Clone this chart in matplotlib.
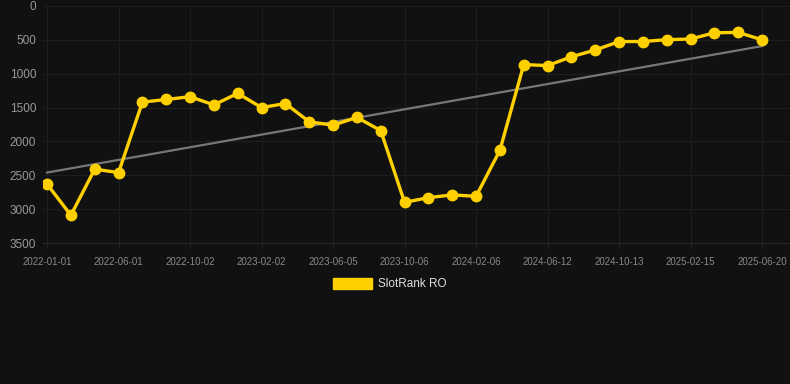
import numpy as np
import matplotlib
matplotlib.use('Agg')
import matplotlib.pyplot as plt
from matplotlib.patches import Patch

plt.rcParams['font.family'] = ['Liberation Sans', 'DejaVu Sans']

# rank values, one point per period (lower is better, axis inverted)
ranks = [2630, 3090, 2410, 2460, 1420, 1380, 1340, 1460, 1290, 1500,
         1440, 1710, 1760, 1645, 1840, 2900, 2830, 2790, 2810, 2130,
         865, 880, 750, 650, 525, 525, 497, 488, 395, 390, 500]
tick_labels = ['2022-01-01', '2022-06-01', '2022-10-02', '2023-02-02',
               '2023-06-05', '2023-10-06', '2024-02-06', '2024-06-12',
               '2024-10-13', '2025-02-15', '2025-06-20']
y_ticks = [0, 500, 1000, 1500, 2000, 2500, 3000, 3500]

bg = '#111111'
gold = '#ffd000'

x = np.arange(len(ranks))
fig = plt.figure(figsize=(7.9, 3.84), dpi=100, facecolor=bg)
ax = fig.add_axes([43 / 790, 1 - 243 / 384, 747 / 790, 237 / 384])
ax.set_facecolor(bg)

# trend line from a linear fit
k, b = np.polyfit(x, ranks, 1)
ax.plot(x, k * x + b, color='#777777', lw=1.6, zorder=2)

ax.plot(x, ranks, color=gold, lw=2.4, marker='o', markersize=7.5,
        markerfacecolor=gold, markeredgecolor=gold, zorder=3)

ax.set_xlim(-0.17, 31.17)
ax.set_ylim(3500, 0)
ax.set_xticks(x[::3])
ax.set_xticklabels(tick_labels)
ax.set_yticks(y_ticks)
ax.grid(True, color='#1e1e1e', lw=0.8)
for s in ax.spines.values():
    s.set_visible(False)
ax.spines['bottom'].set_visible(True)
ax.spines['bottom'].set_color('#262626')
ax.spines['bottom'].set_linewidth(0.8)
ax.tick_params(axis='x', colors='#222222', labelcolor='#888888', labelsize=7,
               length=4, pad=6)
ax.tick_params(axis='y', length=0, labelcolor='#999999', labelsize=8.5, pad=5)

fig.legend(handles=[Patch(facecolor=gold, edgecolor=gold, label='SlotRank RO')],
           loc='center', bbox_to_anchor=(0.493, 0.26), frameon=False,
           handlelength=3.3, handleheight=1.0, handletextpad=0.5,
           prop={'size': 8.5}, labelcolor='#dddddd')

fig.savefig('out.png', dpi=100, facecolor=bg)
